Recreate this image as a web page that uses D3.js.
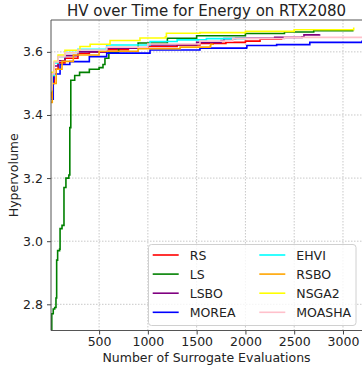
<!DOCTYPE html>
<html>
<head>
<meta charset="utf-8">
<script src="https://cdn.jsdelivr.net/npm/d3@7"></script>
<style>
  body { margin: 0; background: #fff; }
  text { font-family: "DejaVu Sans", sans-serif; fill: #222; }
</style>
</head>
<body>
<svg id="chart" width="362" height="367"></svg>
<script>
// method names, legend order
const methods = ['RS', 'LS', 'LSBO', 'MOREA', 'EHVI', 'RSBO', 'NSGA2', 'MOASHA']
const colors = ['red', 'green', 'purple', 'blue', 'cyan', 'orange', 'yellow', 'pink']

// [evaluations, hypervolume]
const RS = [[5, 3.455], [15, 3.5], [40, 3.545], [80, 3.565], [150, 3.58], [283, 3.595], [400, 3.6], [578, 3.607], [800, 3.612], [1000, 3.617], [1300, 3.622], [1534, 3.627], [1800, 3.63], [2000, 3.634], [2150, 3.64], [2370, 3.645]]
const LS = [[5, 2.72], [15, 2.77], [30, 2.785], [45, 2.79], [58, 2.82], [65, 2.94], [75, 2.97], [95, 2.975], [100, 3.04], [120, 3.05], [140, 3.17], [160, 3.2], [190, 3.21], [200, 3.36], [210, 3.51], [250, 3.525], [300, 3.535], [400, 3.545], [500, 3.55], [540, 3.56], [560, 3.58], [600, 3.598], [700, 3.612], [900, 3.628], [1200, 3.643], [1500, 3.651], [2000, 3.658], [2400, 3.663], [2700, 3.667], [3100, 3.672]]
const LSBO = [[5, 3.47], [15, 3.515], [40, 3.555], [80, 3.572], [150, 3.588], [283, 3.6], [578, 3.612], [1000, 3.622], [1500, 3.63], [1750, 3.636], [1780, 3.642], [1900, 3.643], [2300, 3.646], [2580, 3.648], [2600, 3.654], [2760, 3.656]]
const MOREA = [[5, 3.45], [30, 3.53], [100, 3.56], [200, 3.569], [400, 3.585], [578, 3.596], [1022, 3.606], [1534, 3.612], [2010, 3.613], [2015, 3.62], [2320, 3.623], [2660, 3.63], [3195, 3.636]]
const EHVI = [[5, 3.475], [15, 3.525], [40, 3.565], [80, 3.585], [150, 3.598], [283, 3.608], [578, 3.622], [1022, 3.633], [1300, 3.638], [1600, 3.642], [2000, 3.645]]
const RSBO = [[5, 3.44], [20, 3.5], [60, 3.545], [120, 3.57], [236, 3.59], [500, 3.602], [900, 3.61], [1330, 3.615], [1640, 3.619], [1645, 3.624], [1670, 3.625]]
const NSGA2 = [[5, 3.49], [15, 3.535], [40, 3.57], [80, 3.59], [150, 3.605], [304, 3.617], [408, 3.624], [612, 3.636], [919, 3.644], [1180, 3.648], [1190, 3.659], [1534, 3.661], [2000, 3.665], [2500, 3.67], [3110, 3.677]]
const MOASHA = [[5, 3.48], [15, 3.53], [40, 3.568], [80, 3.585], [150, 3.597], [283, 3.606], [578, 3.615], [1000, 3.625], [1534, 3.634], [1870, 3.642], [2400, 3.646], [3200, 3.648]]
const series = [RS, LS, LSBO, MOREA, EHVI, RSBO, NSGA2, MOASHA]

const xTicks = [500, 1000, 1500, 2000, 2500, 3000]
const yTicks = [2.8, 3.0, 3.2, 3.4, 3.6]

const plotL = 51, plotR = 362, plotT = 20, plotB = 330.5

const svg = d3.select('#chart')

const x = d3.scaleLinear().domain([7, 3195]).range([plotL, plotR])
const y = d3.scaleLinear().domain([2.717, 3.701]).range([plotB, plotT])

// grid
svg.append('g')
    .selectAll('line')
    .data(xTicks)
    .enter()
    .append('line')
    .attr('x1', (d) => x(d)).attr('x2', (d) => x(d))
    .attr('y1', plotT).attr('y2', plotB)
    .attr('stroke', '#c8c8c8').attr('stroke-dasharray', '1.5,1.5')
svg.append('g')
    .selectAll('line')
    .data(yTicks)
    .enter()
    .append('line')
    .attr('x1', plotL).attr('x2', plotR)
    .attr('y1', (d) => y(d)).attr('y2', (d) => y(d))
    .attr('stroke', '#c8c8c8').attr('stroke-dasharray', '1.5,1.5')

svg.append('clipPath').attr('id', 'clip')
    .append('rect').attr('x', plotL).attr('y', plotT)
    .attr('width', plotR - plotL).attr('height', plotB - plotT)

const line = d3.line()
    .x((d) => x(d[0]))
    .y((d) => y(d[1]))
    .curve(d3.curveStepAfter)

svg.append('g')
    .attr('clip-path', 'url(#clip)')
    .selectAll('path')
    .data(series)
    .enter()
    .append('path')
    .attr('d', line)
    .attr('fill', 'none')
    .attr('stroke', (d, i) => colors[i])
    .attr('stroke-width', 1.6)

// axes
const xAxis = svg.append('g')
    .attr('transform', 'translate(0,' + plotB + ')')
    .call(d3.axisBottom(x).tickValues(xTicks).tickSize(4).tickPadding(3).tickFormat(d3.format('d')))
const yAxis = svg.append('g')
    .attr('transform', 'translate(' + plotL + ',0)')
    .call(d3.axisLeft(y).tickValues(yTicks).tickSize(4).tickPadding(4).tickFormat(d3.format('.1f')))

;[xAxis, yAxis].forEach((g) => {
    g.select('.domain').remove()
    g.selectAll('.tick line').attr('stroke', '#444')
    g.selectAll('.tick text').attr('font-size', 12.5).attr('fill', '#222')
        .style('font-family', '"DejaVu Sans", sans-serif')
})

// spines
svg.append('path')
    .attr('d', `M${plotL},${plotT}H${plotR}M${plotL},${plotT}V${plotB}H${plotR}`)
    .attr('fill', 'none').attr('stroke', '#555').attr('stroke-width', 1)

// labels
svg.append('text')
    .attr('x', (plotL + plotR) / 2).attr('y', 15.5)
    .attr('text-anchor', 'middle').attr('font-size', 15)
    .text('HV over Time for Energy on RTX2080')
svg.append('text')
    .attr('x', (plotL + plotR) / 2).attr('y', 362)
    .attr('text-anchor', 'middle').attr('font-size', 12.5)
    .text('Number of Surrogate Evaluations')
svg.append('text')
    .attr('transform', 'translate(17.5,' + (plotT + plotB) / 2 + ') rotate(-90)')
    .attr('text-anchor', 'middle').attr('font-size', 12.5)
    .text('Hypervolume')

// legend
const legend = svg.append('g')
legend.append('rect')
    .attr('x', 148.5).attr('y', 244.5).attr('width', 207.5).attr('height', 81)
    .attr('rx', 3).attr('fill', '#fff').attr('fill-opacity', 0.8)
    .attr('stroke', '#d0d0d0')
const item = legend.selectAll('g.item')
    .data(methods)
    .enter()
    .append('g')
    .attr('transform', (d, i) => `translate(${i < 4 ? 152.7 : 259.3},${255 + (i % 4) * 19.1})`)
item.append('line')
    .attr('x1', 0).attr('x2', 26)
    .attr('stroke', (d, i) => colors[i]).attr('stroke-width', 1.6)
item.append('text')
    .attr('x', 37).attr('y', 4.5)
    .attr('font-size', 12.5)
    .text((d) => d)
</script>
</body>
</html>
